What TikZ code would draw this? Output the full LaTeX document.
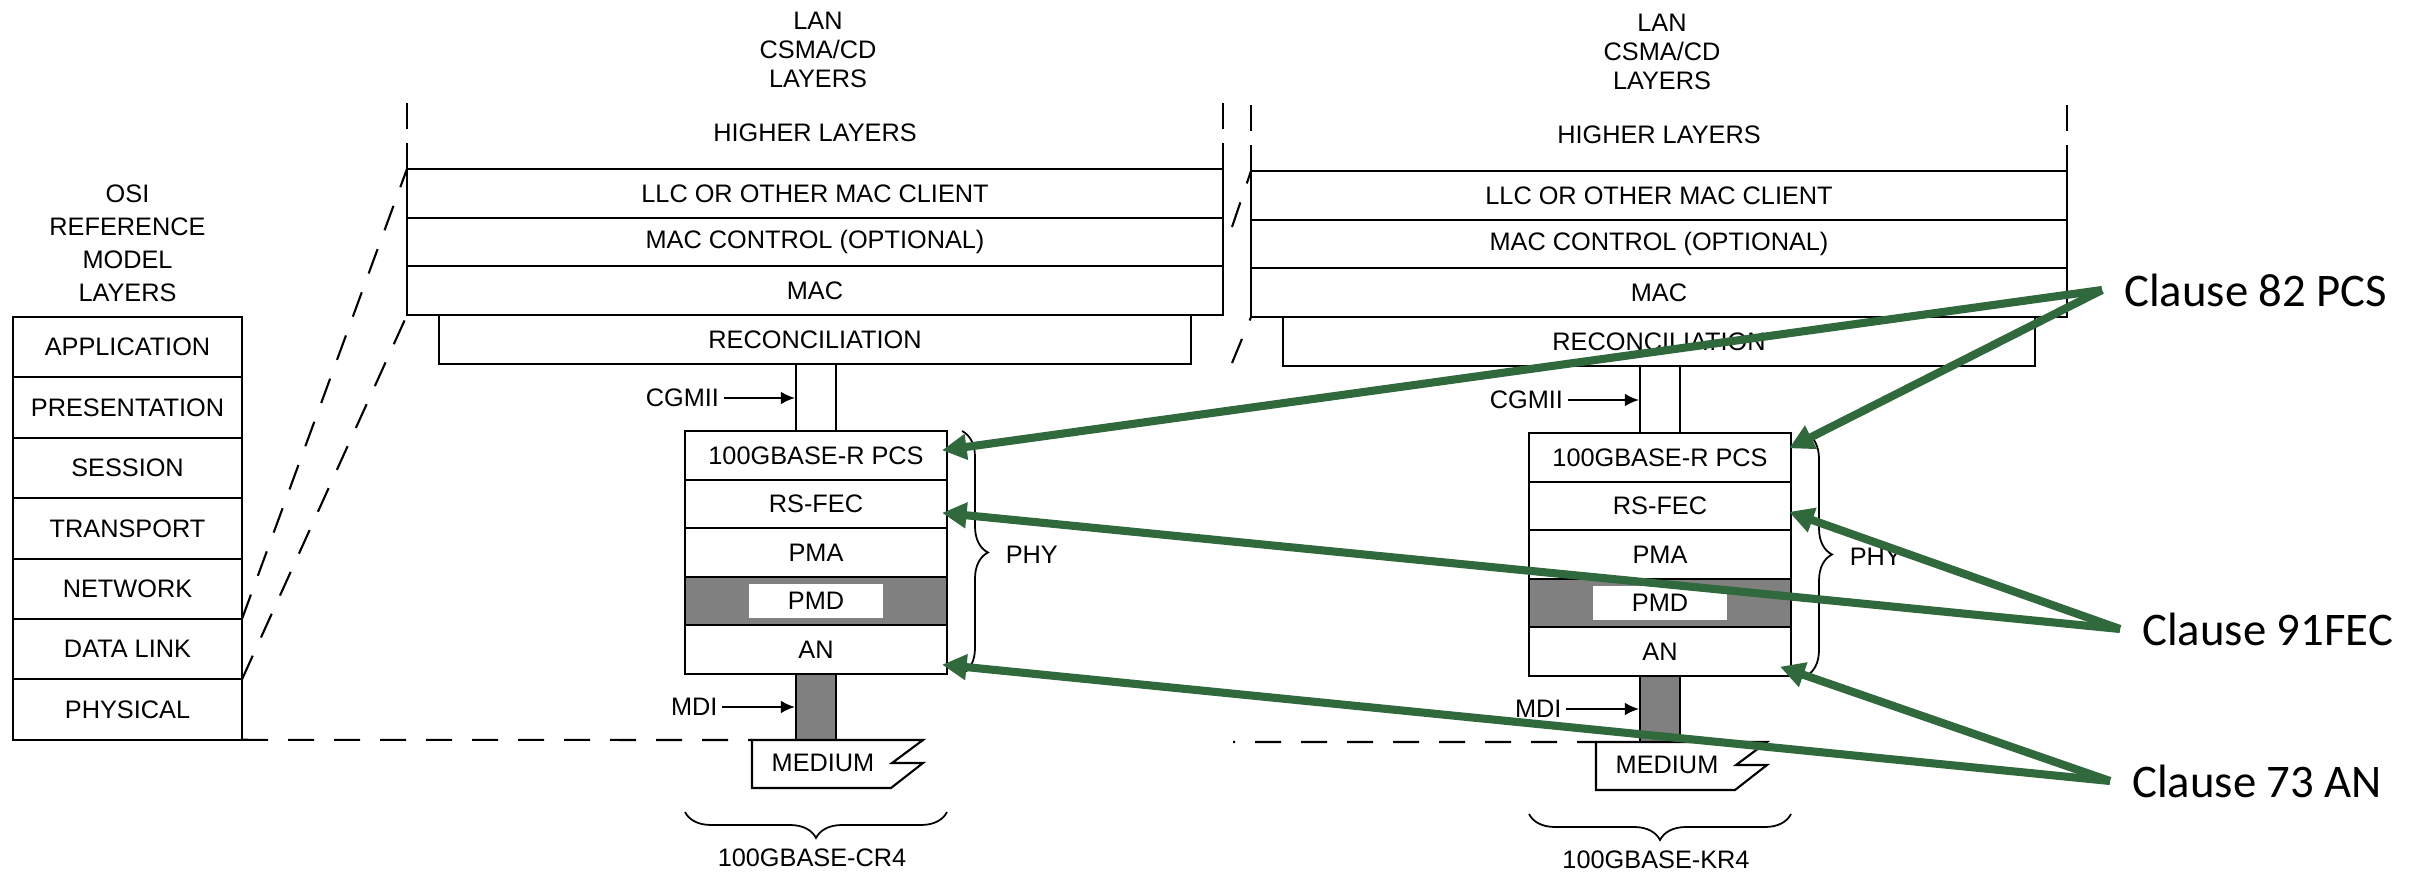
\documentclass[tikz,border=0pt]{standalone}
\usepackage{fontspec}
\setmainfont{Liberation Sans}
\newfontfamily\clausefont{Carlito}
\usetikzlibrary{positioning,arrows.meta,decorations.pathreplacing}
\definecolor{clausegreen}{RGB}{47,105,60}
\definecolor{pmdgray}{RGB}{128,128,128}

\begin{document}
\begin{tikzpicture}[line width=0.6pt,
  every node/.style={font=\fontsize{7.2}{8.3}\selectfont},
  osirow/.style={draw, minimum width=2.29cm, minimum height=0.604cm, inner sep=0pt, outer sep=0pt},
  macrow/.style={draw, minimum width=8.16cm, minimum height=0.487cm, inner sep=0pt, outer sep=0pt},
  phyrow/.style={draw, minimum width=2.62cm, minimum height=0.486cm, inner sep=0pt, outer sep=0pt},
  sidedash/.style={dash pattern=on 0.26cm off 0.14cm},
  cutdash/.style={dash pattern=on 0.26cm off 0.2cm},
  curly/.style={decorate, decoration={brace, amplitude=0.26cm}, line width=0.5pt},
  portarrow/.style={-{Latex[length=4pt,width=3.6pt]}},
  clauselbl/.style={anchor=west, inner sep=6pt, font=\clausefont\fontsize{13.3}{16}\selectfont},
  clausearrow/.style={draw=clausegreen, line width=2.3pt, -{Triangle[length=7pt,width=7pt]}}]

\useasboundingbox (0,0) rectangle (24.23,-8.73);

% OSI reference model
\node[align=center, font=\fontsize{7.2}{9.4}\selectfont] (osititle) at (1.275,-2.437) {OSI\\REFERENCE\\MODEL\\LAYERS};
\node[osirow] (app) at (1.275,-3.472) {APPLICATION};
\node[osirow, below=0pt of app] (pres) {PRESENTATION};
\node[osirow, below=0pt of pres] (sess) {SESSION};
\node[osirow, below=0pt of sess] (trans) {TRANSPORT};
\node[osirow, below=0pt of trans] (net) {NETWORK};
\node[osirow, below=0pt of net] (dlink) {DATA LINK};
\node[osirow, below=0pt of dlink] (phys) {PHYSICAL};

% the two LAN stacks
\foreach \s/\dx/\dy/\phyname in {1/0/0/CR4, 2/8.44/-0.02/KR4}{
\begin{scope}[shift={(\dx,\dy)}]
  \node[align=center] (lan\s) at (8.18,-0.50) {LAN\\CSMA/CD\\LAYERS};
  \node (hl\s) at (8.15,-1.33) {HIGHER LAYERS};
  \node[macrow] (llc\s) at (8.15,-1.933) {LLC OR OTHER MAC CLIENT};
  \node[macrow, below=0pt of llc\s] (mctl\s) {MAC CONTROL (OPTIONAL)};
  \node[macrow, below=0pt of mctl\s] (mac\s) {MAC};
  \draw[sidedash] (llc\s.north west) -- ++(0,0.66);
  \draw[sidedash] (llc\s.north east) -- ++(0,0.66);
  \node[draw, minimum width=7.52cm, minimum height=0.49cm, inner sep=0pt, outer sep=0pt, below=0pt of mac\s] (rec\s) {RECONCILIATION};

  \node[phyrow] (pcs\s) at (8.16,-4.553) {100GBASE-R PCS};
  \node[phyrow, below=0pt of pcs\s] (fec\s) {RS-FEC};
  \node[phyrow, below=0pt of fec\s] (pma\s) {PMA};
  \node[phyrow, fill=pmdgray, below=0pt of pma\s] (pmd\s) {};
  \node[fill=white, minimum width=1.34cm, minimum height=0.34cm, inner sep=0pt] (pmdtxt\s) at (pmd\s) {PMD};
  \node[phyrow, below=0pt of pmd\s] (an\s) {AN};
  \draw ([xshift=-0.2cm]pcs\s.north) -- ([xshift=-0.2cm]pcs\s.north |- rec\s.south);
  \draw ([xshift=0.2cm]pcs\s.north) -- ([xshift=0.2cm]pcs\s.north |- rec\s.south);

  \node[anchor=east, inner sep=1pt] (cgmii\s) at (7.235,-3.98) {CGMII};
  \coordinate (cgin\s) at (7.95,-3.98);
  \draw[portarrow] (cgmii\s) -- (cgin\s);

  \node[draw, fill=pmdgray, minimum width=0.4cm, minimum height=0.66cm, inner sep=0pt, outer sep=0pt, below=0pt of an\s] (mdi\s) {};
  \node[anchor=east, inner sep=1pt] (mdilbl\s) at (7.22,-7.07) {MDI};
  \coordinate (mdiin\s) at (7.95,-7.07);
  \draw[portarrow] (mdilbl\s) -- (mdiin\s);

  % medium symbol
  \coordinate (med\s) at ([xshift=-0.64cm]mdi\s.south);
  \draw (med\s) -- ++(1.71,0) -- ++(-0.31,-0.23) -- ++(0.31,0) -- ++(-0.32,-0.25) -- ++(-1.39,0) -- cycle;
  \node (medium\s) at (8.23,-7.63) {MEDIUM};

  \draw[curly] ([xshift=0.15cm]pcs\s.north east) -- ([xshift=0.15cm]an\s.south east);
  \node[anchor=west] (phy\s) at (9.93,-5.55) {PHY};
  \draw[curly] (9.47,-8.12) -- (6.85,-8.12);
  \node (port\s) at (8.12,-8.58) {100GBASE-\phyname};
\end{scope}
}

% dashed lines from the OSI layers
\draw[cutdash] (dlink.north east) -- (llc1.north west);
\draw[cutdash] (phys.north east) -- (mac1.south west);
\draw[cutdash] (phys.south east) -- (med1);
\coordinate (cutA) at (12.32,-2.27);
\coordinate (cutB) at (12.32,-3.63);
\coordinate (cutC) at (12.33,-7.42);
\draw[cutdash] (cutA) -- (llc2.north west);
\draw[cutdash] (cutB) -- (mac2.south west);
\draw[cutdash, dash phase=0.24cm] (cutC) -- (med2);

% clause labels
\node[clauselbl] (c82) at (21.02,-2.90) {Clause 82 PCS};
\node[clauselbl] (c91) at (21.20,-6.29) {Clause 91FEC};
\node[clauselbl] (c73) at (21.10,-7.81) {Clause 73 AN};

\draw[clausearrow] (c82.west) -- ([shift={(-0.05,0.05)}]pcs1.east);
\draw[clausearrow] (c82.west) -- ([shift={(-0.02,0.09)}]pcs2.east);
\draw[clausearrow] (c91.west) -- ([shift={(-0.05,-0.09)}]fec1.east);
\draw[clausearrow] (c91.west) -- ([shift={(-0.02,-0.06)}]fec2.east);
\draw[clausearrow] (c73.west) -- ([shift={(-0.05,-0.15)}]an1.east);
\draw[clausearrow] (c73.west) -- ([shift={(-0.11,-0.15)}]an2.east);

\end{tikzpicture}
\end{document}
